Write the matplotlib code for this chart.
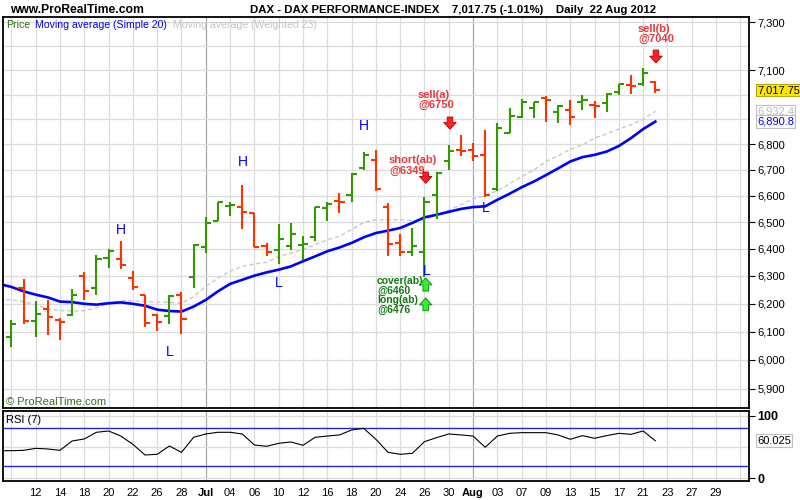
import numpy as np
import pandas as pd
import matplotlib
matplotlib.use('Agg')
import matplotlib.pyplot as plt
from matplotlib.ticker import NullLocator

plt.rcParams['font.family'] = ['Liberation Sans', 'DejaVu Sans']

# trading days shown on the axis (bars stop at 22 Aug)
dates = pd.bdate_range('2012-06-08', '2012-08-31')

opens = [6079, 6256, 6138, 6181, 6142, 6159, 6301, 6256, 6365, 6361,
         6293, 6229, 6157, 6155, 6229, 6295, 6406, 6506, 6562, 6559,
         6535, 6409, 6397, 6412, 6414, 6444, 6553, 6580, 6604, 6707,
         6739, 6559, 6422, 6390, 6390, 6604, 6733, 6778, 6778, 6759,
         6626, 6846, 6910, 6947, 6985, 6929, 6938, 6969, 6956, 6965,
         7011, 7040, 7042, 7051]
highs = [6142, 6289, 6210, 6213, 6148, 6252, 6314, 6377, 6401, 6430,
         6319, 6231, 6163, 6229, 6241, 6418, 6519, 6578, 6578, 6641,
         6536, 6422, 6494, 6497, 6449, 6557, 6576, 6610, 6690, 6772,
         6778, 6572, 6457, 6478, 6595, 6691, 6798, 6837, 6805, 6857,
         6884, 6944, 6983, 6969, 6992, 6956, 6979, 6998, 6975, 7005,
         7042, 7079, 7107, 7054]
lows = [6047, 6126, 6079, 6086, 6070, 6156, 6213, 6229, 6329, 6326,
        6249, 6115, 6102, 6126, 6091, 6256, 6386, 6504, 6523, 6473,
        6406, 6374, 6345, 6394, 6358, 6431, 6506, 6535, 6575, 6698,
        6620, 6372, 6372, 6374, 6298, 6512, 6700, 6755, 6733, 6595,
        6619, 6846, 6904, 6904, 6888, 6884, 6878, 6938, 6907, 6929,
        6996, 7002, 7034, 7005]
closes = [6128, 6138, 6161, 6150, 6134, 6229, 6247, 6364, 6391, 6342,
          6260, 6130, 6135, 6227, 6146, 6415, 6498, 6578, 6566, 6538,
          6406, 6390, 6438, 6455, 6418, 6557, 6570, 6576, 6685, 6759,
          6626, 6419, 6390, 6409, 6578, 6687, 6774, 6774, 6755, 6604,
          6867, 6915, 6969, 6969, 6979, 6952, 6911, 6979, 6952, 7001,
          7041, 7034, 7088, 7017.75]

# indicators start one session before the first visible bar
sma20 = [6271, 6260, 6244, 6232, 6222, 6207, 6205, 6199, 6196, 6201,
         6204, 6199, 6192, 6178, 6173, 6171, 6189, 6213, 6244, 6271,
         6286, 6301, 6313, 6323, 6335, 6354, 6372, 6391, 6405, 6422,
         6443, 6459, 6468, 6478, 6497, 6518, 6528, 6539, 6550, 6557,
         6560, 6585, 6608, 6633, 6655, 6680, 6706, 6733, 6750, 6759,
         6772, 6794, 6825, 6861, 6890.8]
wma23 = [6215, 6213, 6207, 6196, 6181, 6175, 6173, 6174, 6185, 6201,
         6210, 6210, 6207, 6205, 6204, 6201, 6225, 6262, 6292, 6317,
         6335, 6344, 6350, 6372, 6384, 6397, 6415, 6434, 6447, 6472,
         6499, 6509, 6509, 6509, 6505, 6508, 6526, 6545, 6566, 6588,
         6602, 6619, 6647, 6674, 6700, 6733, 6755, 6781, 6798, 6825,
         6842, 6861, 6878, 6900, 6932.4]
rsi7 = [44, 44, 44.6, 47.8, 46.8, 44.6, 59.7, 62.9, 73.7, 75.8,
        67.7, 54.3, 37.1, 38.2, 51.6, 41.4, 65.6, 71, 73.7, 73.7,
        71, 53.2, 51.1, 55.9, 58.1, 52.7, 65.6, 67.7, 69.4, 77.4,
        80.1, 62.4, 41.4, 38.2, 39.8, 58.6, 65.1, 71, 69.4, 67.7,
        49.5, 67.7, 72, 73.1, 73.1, 73.1, 69.4, 62.4, 68.3, 64,
        68.3, 72, 70.4, 75.8, 60.025]

# 7,200 is not labelled in the original; 7,000 / 6,900 / 50 sit under value boxes
price_ticks = [5900, 6000, 6100, 6200, 6300, 6400, 6500, 6600, 6700,
               6800, 7100, 7300]

GREEN = '#339900'
RED = '#ff3300'
GRID = '#dcdcdc'

fig = plt.figure(figsize=(8, 5), dpi=100)
ax = fig.add_axes([3/800, 1-408.3/500, 746/800, 391/500])
ax2 = fig.add_axes([3/800, 1-480.7/500, 746/800, 70/500], sharex=ax)

n = len(closes)
x = np.arange(n)
xl = np.arange(-1, n)

ax.set_yscale('log')
ax.set_xlim(-0.69, 60.71)
ax.set_ylim(5834, 7321)
ax2.set_ylim(-4.35, 108.5)

# vertical grid every two sessions, darker at month change
for k in range(0, len(dates), 2):
    newmonth = k > 0 and dates[k].month != dates[k-2].month
    c = '#a8a8a8' if newmonth else GRID
    for a in (ax, ax2):
        a.axvline(k, color=c, lw=0.9, zorder=0)
for p in range(5900, 7301, 100):
    ax.axhline(p, color=GRID, lw=0.9, zorder=0)
for v in (0, 50, 100):
    ax2.axhline(v, color=GRID, lw=0.9, zorder=0)

# OHLC bars
cols = [GREEN if c >= o else RED for o, c in zip(opens, closes)]
ax.vlines(x, lows, highs, colors=cols, lw=1.5, zorder=3)
ax.hlines(opens, x-0.42, x, colors=cols, lw=1.5, zorder=3)
ax.hlines(closes, x, x+0.42, colors=cols, lw=1.5, zorder=3)

ax.plot(xl, wma23, color='#c8c8c8', lw=1.0, ls=(0, (3, 2)), zorder=2)
ax.plot(xl, sma20, color='#0000ff', lw=1.9, zorder=2)

# H / L swing labels
for i, p in [(9, 6471), (19.06, 6730), (29.02, 6874)]:
    ax.text(i, p, 'H', color='#0000ff', fontsize=10, ha='center', va='center')
for i, p in [(13, 6029), (22, 6274), (34.15, 6320), (39.06, 6554)]:
    ax.text(i, p, 'L', color='#0000ff', fontsize=10, ha='center', va='center')

# trade signals
def signal(i, p, lines, color, size=8):
    for k, s in enumerate(lines):
        ax.annotate(s, xy=(i, p), xytext=(0, -10*k), textcoords='offset pixels',
                    color=color, fontsize=size, fontweight='bold',
                    ha='left', va='center', zorder=5)

def arrow(i, tail, tip, fc, ec):
    ax.annotate('', xy=(i, tip), xytext=(i, tail), zorder=6,
                arrowprops=dict(arrowstyle='simple,head_length=0.5,head_width=0.9,tail_width=0.4',
                                fc=fc, ec=ec, lw=0.6, mutation_scale=10,
                                shrinkA=0, shrinkB=0))

signal(51.57, 7272, ['sell(b)', '@7040'], '#e8383d')
signal(33.47, 7000, ['sell(a)', '@6750'], '#e8383d')
signal(31.08, 6737, ['short(ab)', '@6349'], '#e8383d')
signal(30.09, 6282, ['cover(ab)', '@6460'], '#107a10', 7.5)
signal(30.09, 6212, ['long(ab)', '@6476'], '#107a10', 7.5)
arrow(53.05, 7183, 7129, '#ff2020', '#b00000')
arrow(36.1, 6909, 6860, '#ff2020', '#b00000')
arrow(34.1, 6692, 6648, '#ff2020', '#b00000')
arrow(34.1, 6245, 6293, '#33ee33', '#008800')
arrow(34.1, 6174, 6220, '#33ee33', '#008800')

# RSI panel
ax2.plot(xl, rsi7, color='black', lw=0.8)
for v in (80, 20):
    ax2.axhline(v, color='#2828c8', lw=1.0, zorder=1)

# axes cosmetics
for a in (ax, ax2):
    for s in a.spines.values():
        s.set_color('black')
        s.set_linewidth(1.3)
    a.yaxis.tick_right()
    a.yaxis.set_minor_locator(NullLocator())

ax.set_yticks(price_ticks)
ax.set_yticklabels([f'{p:,}' for p in price_ticks])
ax.tick_params(axis='y', direction='out', length=4, width=0.8, labelsize=8, pad=2)
ax.tick_params(axis='x', length=0, labelbottom=False)

ax2.set_yticks([0, 100])
ax2.set_yticklabels(['0', '100'], fontweight='bold')
ax2.tick_params(axis='y', direction='out', length=4, width=0.8, labelsize=9, pad=2)

xt = list(range(0, len(dates), 2))
labels = []
for k in xt:
    if k == 0 or k == len(dates) - 1:
        labels.append('')
    elif dates[k].month != dates[k-2].month:
        labels.append(dates[k].strftime('%b'))
    else:
        labels.append(dates[k].strftime('%d'))
ax2.set_xticks(xt)
ax2.set_xticklabels(labels)
ax2.tick_params(axis='x', length=0, labelsize=8, pad=5)
for t in ax2.get_xticklabels():
    if t.get_text().isalpha():
        t.set_fontweight('bold')

# last value boxes
ytr = ax.get_yaxis_transform()
ax.text(1.0107, closes[-1], f'{closes[-1]:,.2f}', transform=ytr, fontsize=8,
        va='center', ha='left', zorder=10, clip_on=False,
        bbox=dict(boxstyle='square,pad=0.12', fc='#ffe800', ec='#b8a800', lw=0.8))
ax.text(1.0107, wma23[-1], f'{wma23[-1]:,.1f}', transform=ytr, fontsize=8,
        color='#bdbdbd', va='center', ha='left', zorder=10, clip_on=False,
        bbox=dict(boxstyle='square,pad=0.12', fc='white', ec='#c0c0c0', lw=0.8))
ax.text(1.0107, sma20[-1], f'{sma20[-1]:,.1f}', transform=ytr, fontsize=8,
        color='#0000ff', va='center', ha='left', zorder=10, clip_on=False,
        bbox=dict(boxstyle='square,pad=0.12', fc='white', ec='#c0c0c0', lw=0.8))
ax2.text(1.0107, rsi7[-1], f'{rsi7[-1]:.3f}', transform=ax2.get_yaxis_transform(),
         fontsize=8, va='center', ha='left', zorder=10, clip_on=False,
         bbox=dict(boxstyle='square,pad=0.12', fc='white', ec='#c0c0c0', lw=0.8))

# header and legend texts
fig.text(10/800, 1-10/500, 'www.ProRealTime.com', fontsize=8.7, fontweight='bold', va='center')
fig.text(250/800, 1-10/500, 'DAX - DAX PERFORMANCE-INDEX    7,017.75 (-1.01%)    Daily  22 Aug 2012',
         fontsize=8.2, fontweight='bold', va='center')
fig.text(6/800, 1-25/500, 'Price', color='#2d6a10', fontsize=7.6, va='center')
fig.text(35/800, 1-25/500, 'Moving average (Simple 20)', color='#0000ff', fontsize=7.6, va='center')
fig.text(173/800, 1-25/500, 'Moving average (Weighted 23)', color='#c4c4c4', fontsize=7.6, va='center')
fig.text(6/800, 1-402/500, '\u00a9 ProRealTime.com', color='#3d6b24', fontsize=8, va='center')
fig.text(6/800, 1-420/500, 'RSI (7)', color='black', fontsize=8, va='center')

fig.savefig('out.png', dpi=100)
